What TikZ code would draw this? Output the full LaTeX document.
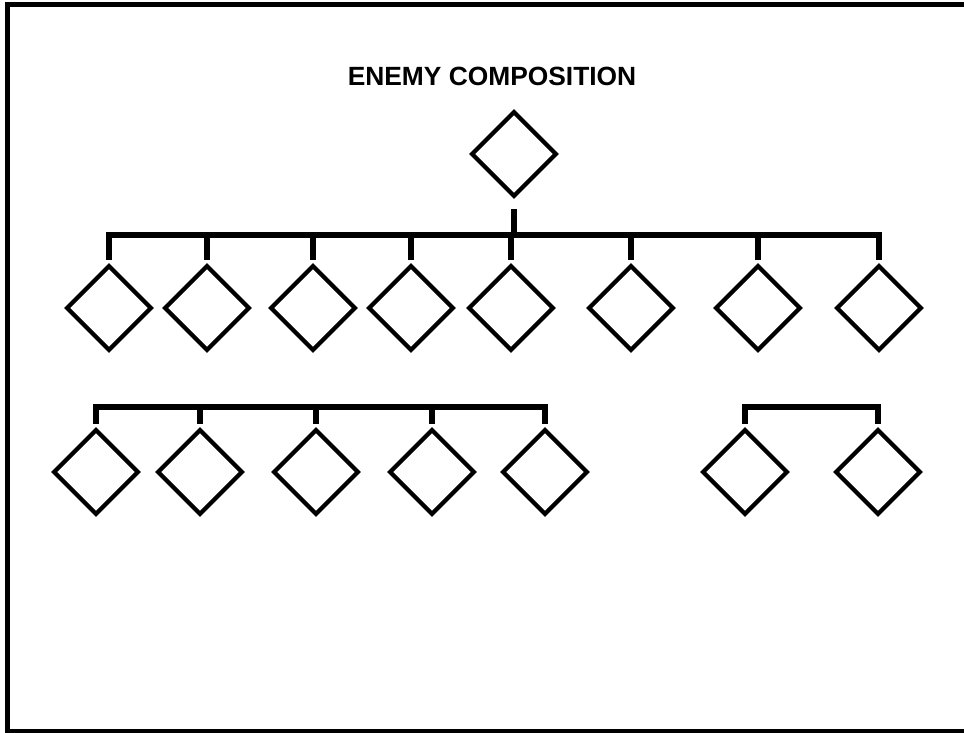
\documentclass[tikz,border=0pt]{standalone}
\usepackage{fontspec}
\setmainfont{Liberation Sans}
\usetikzlibrary{shapes.geometric}

\begin{document}
\begin{tikzpicture}[x=0.02cm, y=-0.02cm,
  unit/.style={diamond, aspect=1, draw=black, line width=2.4pt,
    minimum width=1.71cm, minimum height=1.71cm, inner sep=0pt},
  heading/.style={font=\bfseries\fontsize{15}{18}\selectfont},
  link/.style={line width=2.9pt, black},
  frame/.style={line width=2.8pt, black}
]
\useasboundingbox (0,0) rectangle (964,733);
% === Frame (open on the right) ===
\draw[frame] (964,4.5) -- (7.5,4.5) -- (7.5,731) -- (964,731);
% === Title and top unit ===
\node[heading] (head) at (492,76) {ENEMY COMPOSITION};
\node[unit] (enemy) at (514,154) {};
% === Row 1: eight units ===
\foreach \x [count=\i] in {109,207,313,411,511,631,758,879}
  \node[unit] (a\i) at (\x,308) {};
% === Row 2: five units, then two ===
\foreach \x [count=\i] in {96,200,316,432,545}
  \node[unit] (b\i) at (\x,472) {};
\node[unit] (c1) at (745,472) {};
\node[unit] (c2) at (878,472) {};
% === Bars ===
\coordinate (rowA) at (514,235);
\coordinate (rowB) at (0,407);
\draw[link, shorten <=0.2cm] (enemy) -- (enemy |- rowA);
\draw[link, shorten <=0.07cm, shorten >=0.07cm] (a1) -- (a1 |- rowA) -- (a8 |- rowA) -- (a8);
\foreach \i in {2,...,7}
  \draw[link, shorten >=0.07cm] (a\i |- rowA) -- (a\i);
\draw[link, shorten <=0.07cm, shorten >=0.07cm] (b1) -- (b1 |- rowB) -- (b5 |- rowB) -- (b5);
\foreach \i in {2,3,4}
  \draw[link, shorten >=0.07cm] (b\i |- rowB) -- (b\i);
\draw[link, shorten <=0.07cm, shorten >=0.07cm] (c1) -- (c1 |- rowB) -- (c2 |- rowB) -- (c2);
\end{tikzpicture}
\end{document}
